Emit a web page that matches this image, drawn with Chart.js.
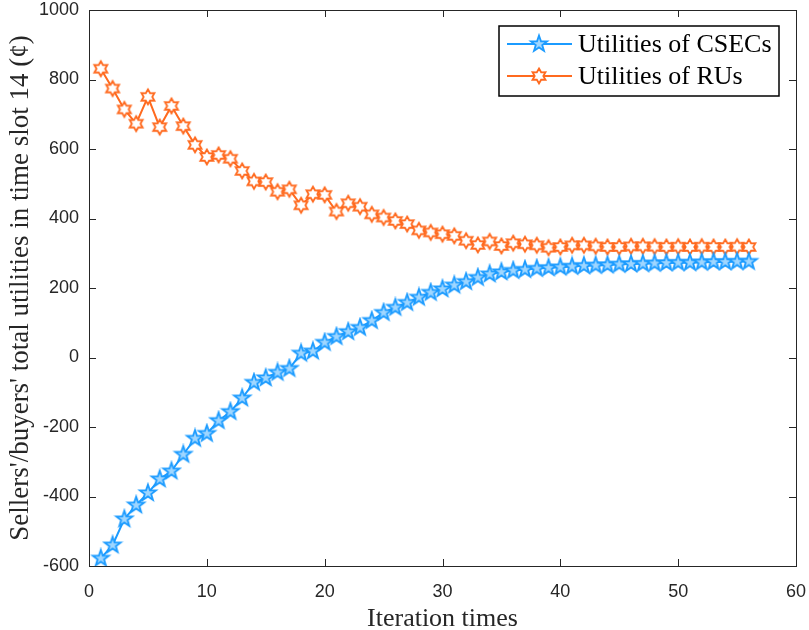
<!DOCTYPE html>
<html>
<head>
<meta charset="utf-8">
<script src="https://cdn.jsdelivr.net/npm/chart.js@4"></script>
<style>
  body { margin: 0; background: #fff; }
  canvas { display: block; }
</style>
</head>
<body>
<canvas id="myChart" width="809" height="630"></canvas>
<script>
const iterations = [1, 2, 3, 4, 5, 6, 7, 8, 9, 10, 11, 12, 13, 14, 15, 16, 17, 18, 19, 20,
  21, 22, 23, 24, 25, 26, 27, 28, 29, 30, 31, 32, 33, 34, 35, 36, 37, 38, 39, 40,
  41, 42, 43, 44, 45, 46, 47, 48, 49, 50, 51, 52, 53, 54, 55, 56];

const csecUtility = [-578, -540, -465, -425, -390, -350, -327, -279, -233, -219,
  -182, -156, -117, -72, -59, -43, -32, 12, 18, 43,
  60, 74, 86, 106, 129, 144, 158, 173, 187, 197,
  208, 218, 230, 240, 246, 250, 253, 256, 258, 260,
  262, 264, 265, 266, 268, 269, 270, 271, 272, 273,
  273, 274, 275, 275, 276, 276];

const ruUtility = [831, 774, 714, 673, 750, 663, 724, 666, 612, 577,
  583, 572, 537, 507, 505, 477, 484, 438, 470, 468,
  420, 444, 434, 412, 403, 393, 384, 366, 360, 355,
  350, 336, 324, 334, 321, 329, 326, 323, 316, 318,
  323, 323, 320, 318, 318, 320, 320, 319, 318, 319,
  318, 319, 318, 318, 319, 318];

const xTicks = [0, 10, 20, 30, 40, 50, 60];
const yTicks = [-600, -400, -200, 0, 200, 400, 600, 800, 1000];
const seriesNames = ["Utilities of CSECs", "Utilities of RUs"];

const blue = "#1b9bff";
const orange = "#ff6a1f";
const axisColor = "#262626";

// star marker images (pentagram / hexagram like matlab 'p' and 'h')
function starMarker(points, outer, inner, stroke, fill) {
  const c = document.createElement("canvas");
  c.width = 22;
  c.height = 22;
  const ctx = c.getContext("2d");
  ctx.beginPath();
  for (let k = 0; k < points * 2; k++) {
    const r = k % 2 === 0 ? outer : inner;
    const a = -Math.PI / 2 + k * Math.PI / points;
    const px = 11 + r * Math.cos(a);
    const py = 11 + r * Math.sin(a);
    if (k === 0) ctx.moveTo(px, py); else ctx.lineTo(px, py);
  }
  ctx.closePath();
  ctx.fillStyle = fill;
  ctx.fill();
  ctx.lineWidth = 1.8;
  ctx.lineJoin = "miter";
  ctx.strokeStyle = stroke;
  ctx.stroke();
  return c;
}

const pentagram = starMarker(5, 8.5, 3.4, blue, "#9fd6ff");
const hexagram = starMarker(6, 7.5, 4.3, orange, "#ffffff");

function toPoints(vals) {
  return vals.map((v, i) => ({ x: iterations[i], y: v }));
}

// box frame with inward ticks, matlab style
const framePlugin = {
  id: "frame",
  afterDraw(chart) {
    const ctx = chart.ctx;
    const a = chart.chartArea;
    const xs = chart.scales.x;
    const ys = chart.scales.y;
    ctx.save();
    ctx.strokeStyle = axisColor;
    ctx.lineWidth = 1;
    ctx.strokeRect(a.left + 0.5, a.top + 0.5, a.right - a.left, a.bottom - a.top);
    ctx.beginPath();
    xTicks.forEach(t => {
      const p = Math.round(xs.getPixelForValue(t)) + 0.5;
      ctx.moveTo(p, a.bottom); ctx.lineTo(p, a.bottom - 7);
      ctx.moveTo(p, a.top); ctx.lineTo(p, a.top + 7);
    });
    yTicks.forEach(t => {
      const p = Math.round(ys.getPixelForValue(t)) + 0.5;
      ctx.moveTo(a.left, p); ctx.lineTo(a.left + 7, p);
      ctx.moveTo(a.right, p); ctx.lineTo(a.right - 7, p);
    });
    ctx.stroke();
    ctx.restore();
  }
};

const legendPlugin = {
  id: "boxLegend",
  afterDraw(chart) {
    const ctx = chart.ctx;
    const a = chart.chartArea;
    const right = a.right - 17;
    const left = right - 280;
    const top = a.top + 16;
    const h = 70;
    ctx.save();
    ctx.fillStyle = "#fff";
    ctx.fillRect(left, top, right - left, h);
    ctx.strokeStyle = "#000";
    ctx.lineWidth = 1.5;
    ctx.strokeRect(left, top, right - left, h);
    const marks = [pentagram, hexagram];
    const cols = [blue, orange];
    seriesNames.forEach((name, i) => {
      const y = top + 18 + i * 32;
      ctx.strokeStyle = cols[i];
      ctx.lineWidth = 2;
      ctx.beginPath();
      ctx.moveTo(left + 8, y);
      ctx.lineTo(left + 73, y);
      ctx.stroke();
      ctx.drawImage(marks[i], left + 40 - 11, y - 11);
      ctx.fillStyle = "#000";
      ctx.font = "26px 'Liberation Serif'";
      ctx.textBaseline = "middle";
      ctx.fillText(name, left + 79, y + 1);
    });
    ctx.restore();
  }
};

const data = {
  datasets: [
    {
      label: seriesNames[0],
      data: toPoints(csecUtility),
      borderColor: blue,
      backgroundColor: blue,
      borderWidth: 2,
      pointStyle: pentagram,
      pointRadius: 8,
      tension: 0,
    },
    {
      label: seriesNames[1],
      data: toPoints(ruUtility),
      borderColor: orange,
      backgroundColor: orange,
      borderWidth: 2,
      pointStyle: hexagram,
      pointRadius: 8,
      tension: 0,
    },
  ],
};

const config = {
  type: "line",
  data,
  plugins: [framePlugin, legendPlugin],
  options: {
    responsive: false,
    animation: false,
    events: [],
    layout: { padding: { top: 9, right: 13, left: 0, bottom: 0 } },
    plugins: {
      legend: { display: false },
      tooltip: { enabled: false },
    },
    scales: {
      x: {
        type: "linear",
        min: 0,
        max: 60,
        afterBuildTicks: (s) => { s.ticks = xTicks.map(v => ({ value: v })); },
        afterFit: (s) => { s.height = 64; s.paddingLeft = 0; s.paddingRight = 0; },
        grid: { display: false, drawTicks: false },
        border: { display: false },
        ticks: {
          padding: 15,
          color: axisColor,
          font: { family: "'Liberation Sans'", size: 18 },
          callback: (v) => String(v),
        },
        title: {
          display: true,
          text: "Iteration times",
          color: axisColor,
          padding: { top: 0, bottom: -5 },
          font: { family: "'Liberation Serif'", size: 26 },
        },
      },
      y: {
        min: -600,
        max: 1000,
        afterBuildTicks: (s) => { s.ticks = yTicks.map(v => ({ value: v })); },
        afterFit: (s) => { s.width = 89; s.paddingTop = 0; s.paddingBottom = 0; },
        grid: { display: false, drawTicks: false },
        border: { display: false },
        ticks: {
          padding: 10,
          color: axisColor,
          font: { family: "'Liberation Sans'", size: 18 },
          callback: (v) => String(v),
        },
        title: {
          display: true,
          text: "Sellers'/buyers' total utilities in time slot 14 (¢)",
          color: axisColor,
          padding: { top: 5, bottom: 0 },
          font: { family: "'Liberation Serif'", size: 27 },
        },
      },
    },
  },
};

const myChart = new Chart(document.getElementById("myChart"), config);
</script>
</body>
</html>
